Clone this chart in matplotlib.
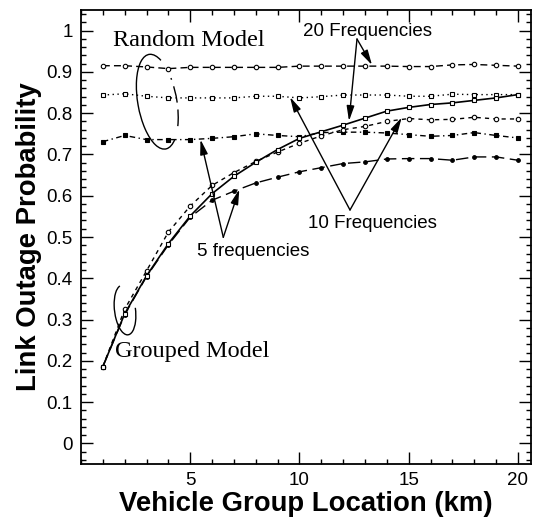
import matplotlib
matplotlib.use("Agg")
import matplotlib.pyplot as plt
from matplotlib.patches import Arc
from matplotlib.patches import FancyArrowPatch
from matplotlib.transforms import Affine2D
from matplotlib.ticker import MultipleLocator

# ---------------- data ----------------
x = list(range(1, 21))

random_20 = [0.915, 0.915, 0.912, 0.908, 0.911, 0.911, 0.911, 0.911, 0.911, 0.914,
             0.914, 0.914, 0.914, 0.914, 0.913, 0.913, 0.917, 0.918, 0.916, 0.914]
random_10 = [0.844, 0.847, 0.841, 0.837, 0.837, 0.837, 0.837, 0.841, 0.841, 0.837,
             0.840, 0.844, 0.844, 0.844, 0.841, 0.841, 0.846, 0.845, 0.845, 0.845]
random_5 = [0.731, 0.746, 0.736, 0.736, 0.736, 0.739, 0.743, 0.750, 0.746, 0.743,
            0.753, 0.754, 0.754, 0.752, 0.748, 0.744, 0.746, 0.753, 0.746, 0.740]

grouped_20 = [0.186, 0.314, 0.406, 0.484, 0.551, 0.605, 0.647, 0.681, 0.712, 0.739,
              0.755, 0.771, 0.788, 0.805, 0.814, 0.821, 0.825, 0.831, 0.837, 0.845]
grouped_10 = [0.186, 0.325, 0.418, 0.512, 0.575, 0.625, 0.656, 0.683, 0.706, 0.727,
              0.745, 0.760, 0.768, 0.780, 0.787, 0.784, 0.785, 0.790, 0.786, 0.786]
grouped_5 = [0.186, 0.312, 0.404, 0.481, 0.548, 0.589, 0.611, 0.631, 0.645, 0.658,
             0.668, 0.678, 0.682, 0.689, 0.690, 0.690, 0.686, 0.694, 0.694, 0.686]

x_major = [5, 10, 15, 20]
x_labels = ["5", "10", "15", "20"]
y_major = [0, 0.1, 0.2, 0.3, 0.4, 0.5, 0.6, 0.7, 0.8, 0.9, 1.0]
y_labels = ["0", "0.1", "0.2", "0.3", "0.4", "0.5", "0.6", "0.7", "0.8", "0.9", "1"]

W, H = 536, 520
fig = plt.figure(figsize=(W / 100, H / 100), dpi=100)
ax = fig.add_axes([81 / W, 1 - 464 / H, 450 / W, 454 / H])

sans = ["Liberation Sans", "DejaVu Sans"]
serif = ["Liberation Serif", "DejaVu Serif"]

lw = 1.0
ms = 3.2
ax.plot(x, random_20, color="black", lw=lw, ls=(0, (5, 3)), marker="o", ms=ms,
        mfc="white", mew=0.8)
ax.plot(x, random_10, color="black", lw=lw, ls=(0, (1, 2.5)), marker="s", ms=ms,
        mfc="white", mew=0.8)
ax.plot(x, random_5, color="black", lw=lw, ls=(0, (4, 2.5, 1, 2.5)), marker="s",
        ms=ms, mfc="black", mew=0.8)
ax.plot(x, grouped_5, color="black", lw=lw, ls=(0, (9, 4)), marker="o", ms=2.8,
        mfc="black", mew=0.6)
ax.plot(x, grouped_10, color="black", lw=lw, ls=(0, (3, 3)), marker="o", ms=ms,
        mfc="white", mew=0.8)
ax.plot(x, grouped_20, color="black", lw=1.2, ls="-", marker="s", ms=ms,
        mfc="white", mew=0.8)

ax.set_xlim(0, 20.6)
ax.set_ylim(-0.05, 1.05)
ax.set_xticks(x_major)
ax.set_xticklabels(x_labels)
ax.set_yticks(y_major)
ax.set_yticklabels(y_labels)
ax.xaxis.set_minor_locator(MultipleLocator(1))
ax.yaxis.set_minor_locator(MultipleLocator(0.02))
ax.tick_params(which="both", direction="in", top=True, right=True, width=1.0,
               labelsize=13.5)
ax.tick_params(which="major", length=8.5, pad=6)
ax.tick_params(which="minor", length=3.8)
for lab in ax.get_xticklabels() + ax.get_yticklabels():
    lab.set_family(sans)
for s in ax.spines.values():
    s.set_linewidth(1.3)

ax.set_xlabel("Vehicle Group Location (km)", family=sans, fontsize=19.8,
              fontweight="bold", labelpad=1)
ax.set_ylabel("Link Outage Probability", family=sans, fontsize=19.8,
              fontweight="bold", labelpad=3)

# ---- annotations (positions in image pixels, y down) ----
px = Affine2D().scale(1 / W, -1 / H).translate(0, 1) + fig.transFigure

fig.text(113 / W, 1 - 46 / H, "Random Model", family=serif, fontsize=17.5,
         va="baseline", ha="left")
fig.text(115 / W, 1 - 357 / H, "Grouped Model", family=serif, fontsize=17.5,
         va="baseline", ha="left")
fig.text(303 / W, 1 - 36 / H, "20 Frequencies", family=sans, fontsize=13.5,
         va="baseline", ha="left")
fig.text(308 / W, 1 - 228 / H, "10 Frequencies", family=sans, fontsize=13.5,
         va="baseline", ha="left")
fig.text(197 / W, 1 - 256 / H, "5 frequencies", family=sans, fontsize=13.5,
         va="baseline", ha="left")

disp = Affine2D().scale(1 / W, 1 / H) + fig.transFigure  # y up pixels


def arrow(p0, p1):
    a = FancyArrowPatch(p0, p1, transform=px,
                        arrowstyle="-|>,head_length=9,head_width=2.3",
                        mutation_scale=1, lw=1.0, color="black",
                        shrinkA=0, shrinkB=0)
    fig.add_artist(a)


arrow((357, 39), (372, 65))
arrow((357, 39), (349, 121))
arrow((350, 210), (290, 97))
arrow((350, 210), (401.7, 117.5))
arrow((223.3, 237.3), (200.5, 139.5))
arrow((223.3, 237.3), (239.3, 189.3))

# ellipses (display pixels, y up)
fig.add_artist(Arc((157.3, H - 101.7), 39, 96, angle=10, theta1=75, theta2=285,
                   transform=disp, lw=1.0, color="black"))
fig.add_artist(Arc((157.3, H - 101.7), 39, 96, angle=10, theta1=-60, theta2=50,
                   transform=disp, lw=1.0, color="black", ls=(0, (12, 5))))
fig.add_artist(Arc((125, H - 310), 21, 50, angle=7, theta1=95, theta2=365,
                   transform=disp, lw=1.0, color="black"))

fig.savefig("out.png", dpi=100)
